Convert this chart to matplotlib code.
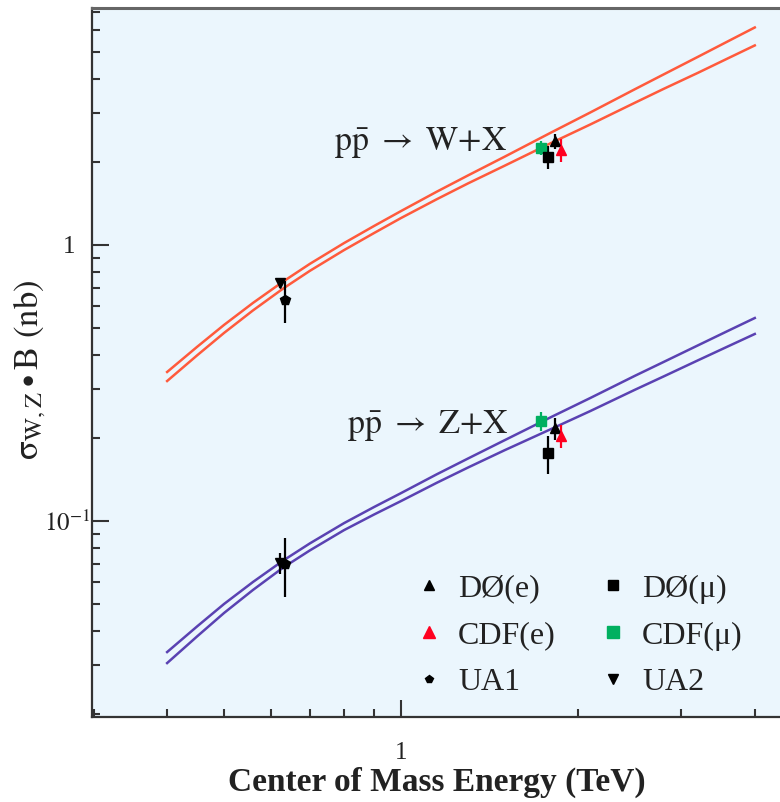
import numpy as np
import matplotlib.pyplot as plt
import matplotlib.transforms as mtransforms
from matplotlib.ticker import LogLocator, NullFormatter
from matplotlib.lines import Line2D

plt.rcParams['font.family'] = ['Liberation Serif', 'DejaVu Serif']
plt.rcParams['mathtext.fontset'] = 'stix'

# theory bands (TeV, nb)
energy = [0.4, 0.45, 0.5, 0.56, 0.63, 0.7, 0.8, 0.9, 1.0, 1.15, 1.3, 1.5, 1.8,
          2.1, 2.5, 2.8, 3.2, 3.6, 4.0]
w_hi = [0.3467, 0.4278, 0.5135, 0.6168, 0.7369, 0.8548, 1.016, 1.172, 1.327,
        1.559, 1.786, 2.087, 2.554, 3.021, 3.666, 4.151, 4.803, 5.468, 6.138]
w_lo = [0.3215, 0.3985, 0.4803, 0.5795, 0.6950, 0.8064, 0.9583, 1.105, 1.252,
        1.464, 1.671, 1.936, 2.340, 2.733, 3.275, 3.679, 4.203, 4.744, 5.284]
z_hi = [0.03352, 0.04154, 0.05007, 0.06015, 0.07186, 0.08301, 0.09826, 0.1124,
        0.1262, 0.1476, 0.1684, 0.1961, 0.2379, 0.2791, 0.3357, 0.3771, 0.4327,
        0.4884, 0.5438]
z_lo = [0.03058, 0.03822, 0.04645, 0.05628, 0.06779, 0.07830, 0.09269, 0.1056,
        0.1181, 0.1375, 0.1562, 0.1804, 0.2153, 0.2503, 0.2988, 0.3342, 0.3819,
        0.4291, 0.4760]

# measurements: x (TeV, shifted for visibility), W sigma*B, err, Z sigma*B, err
d0e_x, d0e_w, d0e_we, d0e_z, d0e_ze = 1.83, 2.38, 0.15, 0.217, 0.020
d0m_x, d0m_w, d0m_we, d0m_z, d0m_ze = 1.78, 2.08, 0.20, 0.176, 0.028
cdfe_x, cdfe_w, cdfe_we, cdfe_z, cdfe_ze = 1.87, 2.21, 0.22, 0.203, 0.019
cdfm_x, cdfm_w, cdfm_we, cdfm_z, cdfm_ze = 1.73, 2.25, 0.13, 0.230, 0.018
ua1_x, ua1_w, ua1_we, ua1_z, ua1_ze = 0.636, 0.632, 0.11, 0.070, 0.017
ua2_x, ua2_w, ua2_we, ua2_z, ua2_ze = 0.623, 0.728, 0.03, 0.0705, 0.006

w_color = '#ff5a3c'
z_color = '#5a42b2'
green = '#00b060'
red = '#ff0020'

fig = plt.figure(figsize=(7.8, 8.02), dpi=100)
ax = fig.add_axes([92 / 780, 85 / 802, 690 / 780, 709 / 802])
ax.set_facecolor('#ebf6fd')
ax.set_xscale('log')
ax.set_yscale('log')

ax.plot(energy, w_hi, color=w_color, lw=1.8)
ax.plot(energy, w_lo, color=w_color, lw=1.8)
ax.plot(energy, z_hi, color=z_color, lw=1.8)
ax.plot(energy, z_lo, color=z_color, lw=1.8)

points = [
    (cdfm_x, cdfm_w, cdfm_we, cdfm_z, cdfm_ze, 's', green),
    (d0m_x, d0m_w, d0m_we, d0m_z, d0m_ze, 's', 'black'),
    (d0e_x, d0e_w, d0e_we, d0e_z, d0e_ze, '^', 'black'),
    (cdfe_x, cdfe_w, cdfe_we, cdfe_z, cdfe_ze, '^', red),
    (ua1_x, ua1_w, ua1_we, ua1_z, ua1_ze, 'p', 'black'),
    (ua2_x, ua2_w, ua2_we, ua2_z, ua2_ze, 'v', 'black'),
]
for x, w, we, z, ze, m, c in points:
    ax.errorbar([x, x], [w, z], yerr=[we, ze], fmt=m, color=c, ms=7,
                elinewidth=1.6, capsize=0, zorder=3)

ax.text(0.769, 2.21, r'$\mathrm{p\bar{p}}\ \rightarrow\ \mathrm{W{+}X}$',
        fontsize=24.5, color='#222222', va='baseline')
ax.text(0.81, 0.2085, r'$\mathrm{p\bar{p}}\ \rightarrow\ \mathrm{Z{+}X}$',
        fontsize=24.5, color='#222222', va='baseline')

ax.set_xlim(0.298, 4.45)
ax.set_ylim(0.0195, 7.22)

ax.set_xticks([1])
ax.set_xticklabels(['1'])
ax.xaxis.set_minor_locator(LogLocator(subs=np.arange(2, 10)))
ax.xaxis.set_minor_formatter(NullFormatter())
ax.set_yticks([0.1, 1])
ax.set_yticklabels([r'$10^{-1}$', '1'])
ax.yaxis.set_minor_locator(LogLocator(subs=np.arange(2, 10)))
ax.yaxis.set_minor_formatter(NullFormatter())
ax.tick_params(which='both', direction='in', width=1.5, color='#333333',
               labelsize=18, labelcolor='#222222')
ax.tick_params(which='major', length=12)
ax.tick_params(which='minor', length=6)
ax.tick_params(axis='x', pad=18)
ax.tick_params(axis='y', pad=12)

# the 10^-1 label sits closer to the axis in the original
shift = mtransforms.ScaledTranslation(15 / 100, 0, fig.dpi_scale_trans)
lab = ax.get_yticklabels()[0]
lab.set_transform(lab.get_transform() + shift)

ax.spines['right'].set_visible(False)
ax.spines['top'].set_color('#666666')
ax.spines['top'].set_linewidth(2.2)
ax.spines['left'].set_linewidth(1.6)
ax.spines['bottom'].set_linewidth(1.6)
ax.spines['left'].set_color('#333333')
ax.spines['bottom'].set_color('#333333')

ax.set_xlabel('Center of Mass Energy (TeV)', fontsize=24, fontweight='bold',
              color='#222222', labelpad=2)
ax.set_ylabel(r'$\mathrm{\sigma}_{\mathrm{W,Z}}\bullet\mathrm{B\ (nb)}$',
              fontsize=25, color='#222222')
ax.yaxis.set_label_coords(-0.064, 0.49)

handles = [
    Line2D([], [], ls='none', marker='^', color='black', ms=7),
    Line2D([], [], ls='none', marker='^', color=red, ms=9),
    Line2D([], [], ls='none', marker='p', color='black', ms=6),
    Line2D([], [], ls='none', marker='s', color='black', ms=7),
    Line2D([], [], ls='none', marker='s', color=green, ms=9),
    Line2D([], [], ls='none', marker='v', color='black', ms=7),
]
labels = ['DØ(e)', 'CDF(e)', 'UA1', 'DØ(μ)', 'CDF(μ)', 'UA2']
ax.legend(handles, labels, ncol=2, frameon=False, fontsize=23,
          loc='lower left', bbox_to_anchor=(0.424, -0.013),
          handlelength=1.0, handletextpad=0.4, columnspacing=1.3,
          labelspacing=0.55, labelcolor='#222222')

fig.savefig('out.png', dpi=100)
